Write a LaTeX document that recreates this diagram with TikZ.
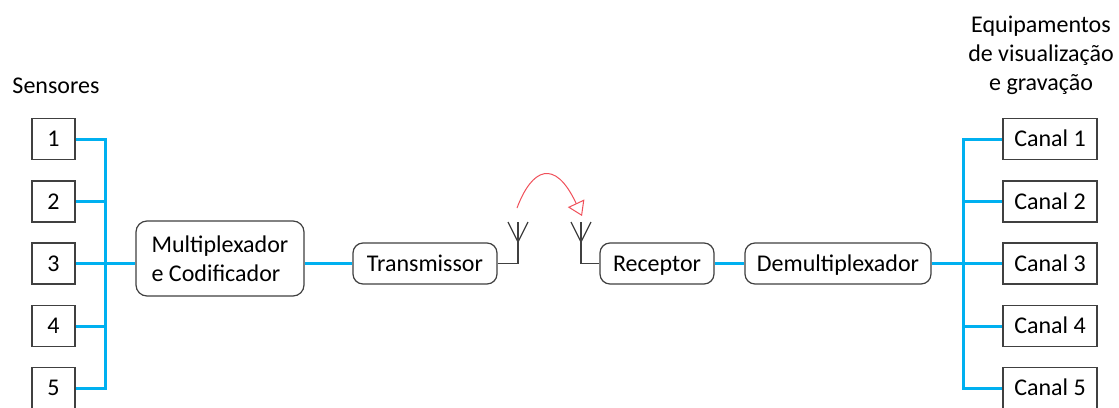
\documentclass[tikz,border=0pt]{standalone}
\usepackage{fontspec}
\setmainfont{Carlito}
\usetikzlibrary{arrows.meta}
\definecolor{busblue}{RGB}{0,176,240}
\definecolor{edgegray}{RGB}{64,64,64}
\definecolor{wavered}{RGB}{240,80,90}

\begin{document}
\begin{tikzpicture}[x=1pt,y=-1pt,
  every node/.style={font=\fontsize{24}{29}\selectfont, text=black},
  sqbox/.style={draw=edgegray, line width=1.2pt, minimum height=41pt, inner sep=0pt,
                text height=15.5pt, text depth=0pt},
  sensor/.style={sqbox, minimum width=43pt},
  canal/.style={sqbox, minimum width=94pt},
  tape/.style={draw=edgegray, line width=1.2pt, rounded corners=10pt, minimum height=41pt,
               inner sep=0pt, text height=15.5pt, text depth=0pt},
  bus/.style={draw=busblue, line width=3pt},
  wire/.style={draw=edgegray, line width=1.3pt},
  wave/.style={draw=wavered, line width=1pt}]

% canvas
\fill[white] (0,0) rectangle (1119,407);
\useasboundingbox (0,0) rectangle (1119,407);

% titles
\node[anchor=base] (sens) at (56,93) {Sensores};
\node[anchor=base, align=center] (equip) at (1041,90.5) {Equipamentos\\de visualização\\e gravação};

% sensors
\node[sensor] (s1) at (53.5,139)   {1};
\node[sensor] (s2) at (53.5,201.5) {2};
\node[sensor] (s3) at (53.5,263.5) {3};
\node[sensor] (s4) at (53.5,326)   {4};
\node[sensor] (s5) at (53.5,388)   {5};

% output channels
\node[canal] (c1) at (1050,139)   {Canal 1};
\node[canal] (c2) at (1050,201.5) {Canal 2};
\node[canal] (c3) at (1050,263.5) {Canal 3};
\node[canal] (c4) at (1050,326)   {Canal 4};
\node[canal] (c5) at (1050,388)   {Canal 5};

% processing chain
\node[draw=edgegray, line width=1.2pt, rounded corners=11pt, minimum width=168pt,
      minimum height=75pt, inner sep=0pt, align=left] (mux) at (220,258.5)
      {Multiplexador\\e Codificador};
\node[tape, minimum width=144pt] (tx)  at (425,263.5) {Transmissor};
\node[tape, minimum width=114pt] (rx)  at (657,263.5) {Receptor};
\node[tape, minimum width=186pt] (dmx) at (838,263.5) {Demultiplexador};

% bus junctions
\coordinate (lbus) at (105,263.5);
\coordinate (rbus) at (963,263.5);

% sensor bus
\draw[bus] (s1.east) -- (s1.east -| lbus) -- (s5.east -| lbus) -- (s5.east);
\draw[bus] (s2.east) -- (s2.east -| lbus);
\draw[bus] (s4.east) -- (s4.east -| lbus);
\draw[bus] (s3.east) -- (s3.east -| mux.west);
\draw[bus] (mux.east |- tx.west) -- (tx.west);

% receiver side
\draw[bus] (rx.east) -- (dmx.west);
\draw[bus] (dmx.east) -- (c3.west);
\draw[bus] (c1.west) -- (c1.west -| rbus) -- (c5.west -| rbus) -- (c5.west);
\draw[bus] (c2.west) -- (c2.west -| rbus);
\draw[bus] (c4.west) -- (c4.west -| rbus);

% antennas
\coordinate (a1) at (518,222);
\coordinate (a2) at (581,222);
\draw[wire] (tx.east) -| (a1);
\draw[wire] (rx.west) -| (a2);
\draw[wire] ([xshift=-10pt]a1) -- ([yshift=-20pt]a1) -- ([xshift=10pt]a1);
\draw[wire] ([xshift=-10pt]a2) -- ([yshift=-20pt]a2) -- ([xshift=10pt]a2);

% radio link
\coordinate (wstart) at (517,208);
\coordinate (wend) at (582,216);
\draw[wave, -{Triangle[open, length=14pt, width=18pt]}]
  (wstart) .. controls (532,168) and (555,158) .. (wend);
\end{tikzpicture}
\end{document}
